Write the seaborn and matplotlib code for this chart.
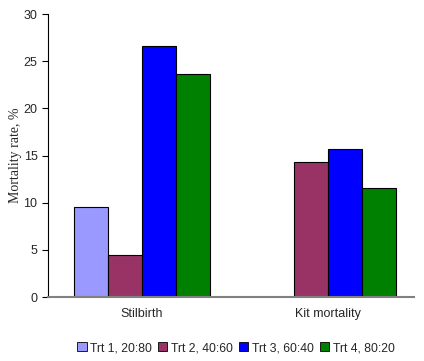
import numpy as np
import pandas as pd
import seaborn as sns
import matplotlib.pyplot as plt

categories = ['Stilbirth', 'Kit mortality']
treatments = ['Trt 1, 20:80', 'Trt 2, 40:60', 'Trt 3, 60:40', 'Trt 4, 80:20']
stilbirth = [9.5, 4.5, 26.6, 23.7]
kit_mortality = [np.nan, 14.3, 15.7, 11.6]
colors = ['#9999FF', '#993366', '#0000FF', '#008000']

df = pd.DataFrame({
    'category': [categories[0]] * 4 + [categories[1]] * 4,
    'treatment': treatments * 2,
    'rate': stilbirth + kit_mortality,
})

sns.set_style('white')
plt.rcParams['font.family'] = ['Liberation Sans', 'DejaVu Sans']

fig = plt.figure(figsize=(4.24, 3.61), dpi=100)
ax = fig.add_axes([0.113, 0.177, 0.863, 0.784])
sns.barplot(data=df, x='category', y='rate', hue='treatment', order=categories,
            hue_order=treatments, palette=colors, width=0.73, edgecolor='black',
            linewidth=0.8, saturation=1, ax=ax)

ax.set_ylim(0, 30)
ax.set_yticks(range(0, 31, 5))
ax.set_xlim(-0.505, 1.462)
ax.set_xlabel('')
ax.set_ylabel('Mortality rate, %', family='Liberation Serif', fontsize=10, labelpad=1)
ax.tick_params(axis='y', length=4, width=0.8, color='black', labelsize=9, left=True)
ax.tick_params(axis='x', length=0, labelsize=9, pad=8)
for s in ['top', 'right']:
    ax.spines[s].set_visible(False)
ax.spines['left'].set_color('black')
ax.spines['left'].set_linewidth(0.8)
ax.spines['bottom'].set_color('#808080')
ax.spines['bottom'].set_linewidth(1.5)

leg = ax.legend(loc='center', bbox_to_anchor=(0.514, -0.18), ncol=4, frameon=False,
                fontsize=8.8, handlelength=0.75, handleheight=0.75, handletextpad=0.3,
                columnspacing=0.5)
for h in leg.legend_handles:
    h.set_linewidth(0.6)

fig.savefig('out.png', dpi=100)
